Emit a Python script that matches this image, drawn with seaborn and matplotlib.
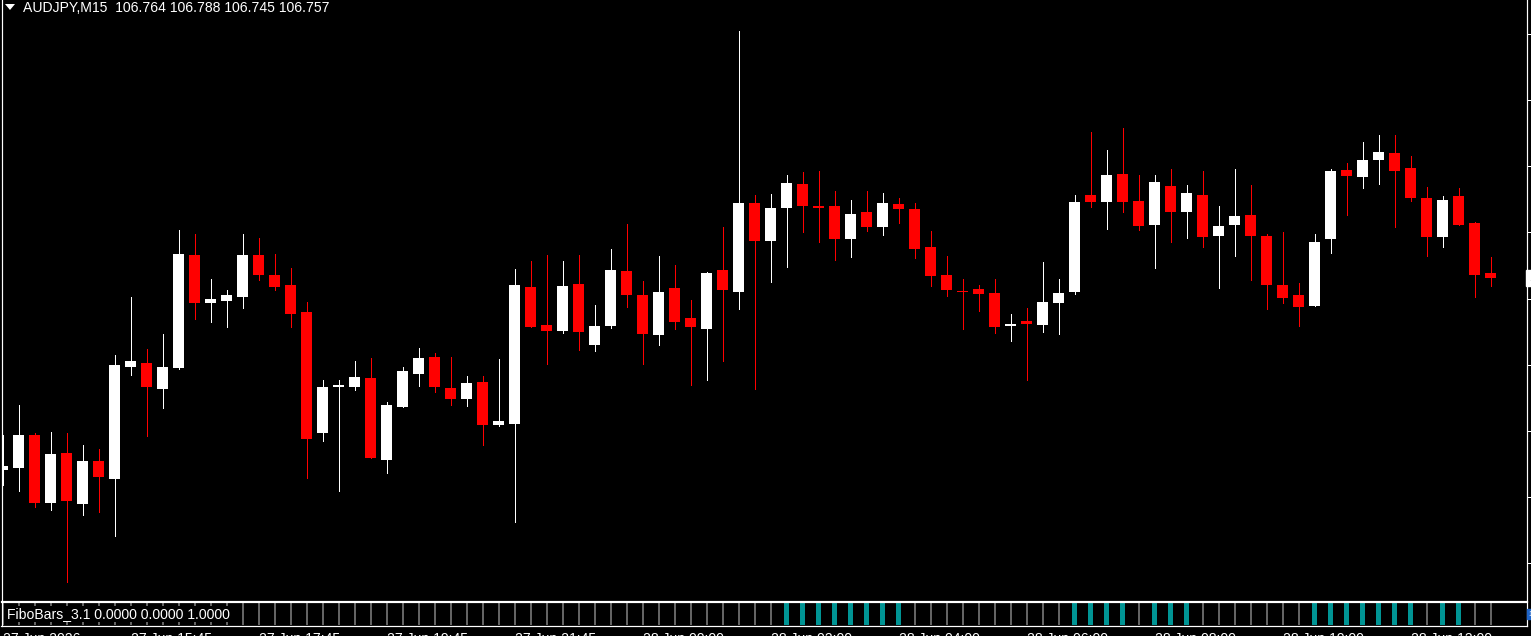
import matplotlib
matplotlib.use("Agg")
import matplotlib.pyplot as plt
from matplotlib.patches import Polygon
import matplotlib.transforms as mtransforms
import numpy as np
import pandas as pd
import seaborn as sns

# ---------------- data ----------------
symbol = "AUDJPY,M15"
indicator_name = "FiboBars_3.1"
indicator_values = [0.0, 0.0, 1.0]

opens = [106.473, 106.476, 106.525, 106.424, 106.498, 106.423, 106.486, 106.460, 106.625, 106.631,
         106.593, 106.624, 106.791, 106.720, 106.723, 106.729, 106.791, 106.761, 106.747, 106.707,
         106.528, 106.596, 106.596, 106.609, 106.488, 106.566, 106.615, 106.640, 106.594, 106.578,
         106.603, 106.539, 106.541, 106.744, 106.687, 106.679, 106.748, 106.658, 106.686, 106.767,
         106.732, 106.673, 106.742, 106.698, 106.682, 106.769, 106.736, 106.868, 106.812, 106.861,
         106.896, 106.864, 106.864, 106.815, 106.855, 106.832, 106.867, 106.859, 106.803, 106.761,
         106.738, 106.741, 106.735, 106.686, 106.693, 106.687, 106.720, 106.736, 106.880, 106.869,
         106.911, 106.871, 106.835, 106.893, 106.855, 106.880, 106.819, 106.835, 106.850, 106.819,
         106.747, 106.732, 106.716, 106.815, 106.917, 106.906, 106.932, 106.942, 106.920, 106.875,
         106.818, 106.878, 106.838, 106.764]
highs = [106.525, 106.569, 106.528, 106.529, 106.528, 106.510, 106.504, 106.643, 106.729, 106.652,
         106.674, 106.828, 106.822, 106.756, 106.739, 106.822, 106.816, 106.793, 106.772, 106.721,
         106.606, 106.606, 106.634, 106.639, 106.573, 106.625, 106.653, 106.646, 106.640, 106.612,
         106.612, 106.637, 106.770, 106.782, 106.791, 106.782, 106.791, 106.717, 106.800, 106.837,
         106.753, 106.790, 106.776, 106.724, 106.766, 106.832, 107.123, 106.880, 106.881, 106.909,
         106.914, 106.915, 106.886, 106.872, 106.886, 106.883, 106.875, 106.868, 106.827, 106.790,
         106.756, 106.747, 106.756, 106.704, 106.713, 106.781, 106.756, 106.880, 106.973, 106.946,
         106.979, 106.909, 106.909, 106.918, 106.895, 106.915, 106.864, 106.918, 106.895, 106.822,
         106.825, 106.750, 106.822, 106.918, 106.927, 106.958, 106.969, 106.969, 106.938, 106.892,
         106.878, 106.890, 106.840, 106.788]
lows = [106.451, 106.442, 106.418, 106.414, 106.307, 106.406, 106.411, 106.375, 106.613, 106.523,
        106.565, 106.622, 106.696, 106.692, 106.684, 106.713, 106.754, 106.739, 106.684, 106.461,
        106.516, 106.442, 106.591, 106.491, 106.468, 106.566, 106.597, 106.588, 106.569, 106.568,
        106.510, 106.538, 106.396, 106.684, 106.630, 106.676, 106.650, 106.649, 106.683, 106.714,
        106.630, 106.658, 106.682, 106.599, 106.606, 106.634, 106.711, 106.593, 106.751, 106.773,
        106.825, 106.810, 106.784, 106.788, 106.827, 106.821, 106.838, 106.787, 106.745, 106.730,
        106.682, 106.708, 106.676, 106.664, 106.606, 106.677, 106.674, 106.733, 106.862, 106.830,
        106.855, 106.828, 106.772, 106.810, 106.816, 106.803, 106.742, 106.790, 106.754, 106.711,
        106.720, 106.686, 106.716, 106.794, 106.850, 106.890, 106.896, 106.832, 106.871, 106.790,
        106.803, 106.835, 106.729, 106.745]
closes = [106.479, 106.525, 106.424, 106.497, 106.427, 106.486, 106.462, 106.628, 106.634, 106.596,
          106.625, 106.793, 106.720, 106.726, 106.732, 106.791, 106.761, 106.744, 106.704, 106.519,
          106.596, 106.599, 106.610, 106.491, 106.569, 106.619, 106.639, 106.596, 106.578, 106.602,
          106.539, 106.545, 106.747, 106.684, 106.679, 106.745, 106.677, 106.686, 106.769, 106.732,
          106.674, 106.736, 106.692, 106.684, 106.764, 106.739, 106.868, 106.812, 106.861, 106.898,
          106.864, 106.861, 106.815, 106.852, 106.832, 106.868, 106.859, 106.800, 106.760, 106.739,
          106.736, 106.733, 106.684, 106.689, 106.689, 106.721, 106.735, 106.869, 106.869, 106.909,
          106.869, 106.834, 106.899, 106.855, 106.883, 106.818, 106.834, 106.849, 106.819, 106.747,
          106.727, 106.714, 106.810, 106.915, 106.908, 106.932, 106.943, 106.915, 106.875, 106.818,
          106.872, 106.835, 106.761, 106.757]
# FiboBars state per bar: 1 = trend bar (teal), 0 = neutral (grey)
fibo_signal = [0, 0, 0, 0, 0, 0, 0, 0, 0, 0,
               0, 0, 0, 0, 0, 0, 0, 0, 0, 0,
               0, 0, 0, 0, 0, 0, 0, 0, 0, 0,
               0, 0, 0, 0, 0, 0, 0, 0, 0, 0,
               0, 0, 0, 0, 0, 0, 0, 0, 0, 1,
               1, 1, 1, 1, 1, 1, 1, 0, 0, 0,
               0, 0, 0, 0, 0, 0, 0, 1, 1, 1,
               1, 0, 1, 1, 1, 0, 0, 0, 0, 0,
               0, 0, 1, 1, 1, 1, 1, 1, 1, 0,
               1, 1, 0, 0]
time_tick_pos = [0, 8, 16, 24, 32, 40, 48, 56, 64, 72, 80, 88]
time_labels = ["27 Jun 2026", "27 Jun 15:45", "27 Jun 17:45", "27 Jun 19:45",
               "27 Jun 21:45", "28 Jun 00:00", "28 Jun 02:00", "28 Jun 04:00",
               "28 Jun 06:00", "28 Jun 08:00", "28 Jun 10:00", "28 Jun 12:00"]
price_ticks = [107.118, 107.020, 106.923, 106.825, 106.726, 106.628, 106.531, 106.433, 106.335]

df = pd.DataFrame({"open": opens, "high": highs, "low": lows, "close": closes,
                   "signal": fibo_signal})
df["idx"] = np.arange(len(df))

# ---------------- style ----------------
sns.set_theme(style="dark", rc={
    "figure.facecolor": "black", "axes.facecolor": "black",
    "axes.edgecolor": "white", "xtick.color": "white", "ytick.color": "white",
    "text.color": "white", "axes.grid": False,
})
plt.rcParams["font.family"] = ["Liberation Sans", "DejaVu Sans"]

W, H = 1531, 636
fig = plt.figure(figsize=(W / 100, H / 100), dpi=100, facecolor="black")
PX = 0.72  # one pixel in points
FS = 10.1

def fx(px):
    return px / W

def fy(py):
    return 1 - py / H

ax = fig.add_axes([fx(1.5), fy(600.5), fx(1527) - fx(1.5), 600.5 / H])
ax2 = fig.add_axes([fx(1.5), fy(626), fx(1527) - fx(1.5), 24 / H])

for a in (ax, ax2):
    a.set_facecolor("black")
    for s in a.spines.values():
        s.set_color("white")
        s.set_linewidth(1.2 * PX)
ax.spines["top"].set_visible(False)

# ---------------- candles ----------------
up = df["close"] >= df["open"]
colors = np.where(up, "#FFFFFF", "#FF0000")
body_low = np.minimum(df["open"], df["close"])
body_h = np.maximum((df["close"] - df["open"]).abs(), 0.0016)

ax.vlines(df["idx"], df["low"], df["high"], colors=colors, linewidth=1.0 * PX,
          antialiased=False, zorder=2)
ax.bar(df["idx"], body_h, bottom=body_low, width=0.6875, color=colors,
       linewidth=0, antialiased=False, zorder=3)

ax.set_xlim(-0.0625, 95.28)
ax.set_ylim(106.2797, 107.1684)
ax.set_xticks([])
ax.yaxis.tick_right()
ax.set_yticks(price_ticks)
ax.tick_params(axis="y", direction="out", length=3.5 * PX, width=1 * PX,
               colors="white", labelright=False, labelleft=False, right=True, left=False)

# current price marker (mostly outside the canvas, as in the reference)
trans = mtransforms.blended_transform_factory(ax.transAxes, ax.transData)
ax.text(1.0012, closes[-1], f"{closes[-1]:.3f}", transform=trans, ha="left", va="center",
        fontsize=8, color="black", clip_on=False,
        bbox=dict(boxstyle="square,pad=0.25", facecolor="white", edgecolor="white"))

# header
fig.patches.append(Polygon([[fx(5), fy(4)], [fx(15), fy(4)], [fx(10), fy(10)]],
                           closed=True, facecolor="white", edgecolor="none",
                           transform=fig.transFigure))
header = f"{symbol}  {opens[-1]:.3f} {highs[-1]:.3f} {lows[-1]:.3f} {closes[-1]:.3f}"
fig.text(fx(23), fy(8), header, ha="left", va="center", fontsize=FS, color="white")

# ---------------- FiboBars indicator ----------------
sig = df["signal"].to_numpy()
bar_w = np.where(sig == 1, 0.3125, 0.125)
bar_c = np.where(sig == 1, "#009494", "#646464")
ax2.bar(df["idx"], np.ones(len(df)), bottom=0, width=bar_w, color=bar_c,
        linewidth=0, antialiased=False, zorder=2)
ax2.set_xlim(-0.0625, 95.28)
ax2.set_ylim(-0.05, 1.03)
ax2.set_yticks([])
ax2.set_xticks(time_tick_pos)
ax2.set_xticklabels(time_labels)
ax2.tick_params(axis="x", direction="out", length=3.5 * PX, width=1 * PX, colors="white",
                pad=2.0, labelsize=FS, labelcolor="white")
for lbl in ax2.get_xticklabels():
    lbl.set_ha("left")

ind_label = f"{indicator_name} " + " ".join(f"{v:.4f}" for v in indicator_values)
ax2.text(fx(5) / (fx(1527) - fx(1.5)), 0.5, ind_label, transform=ax2.transAxes,
         ha="left", va="center", fontsize=FS, color="white", zorder=5,
         bbox=dict(boxstyle="square,pad=0.05", facecolor="black", edgecolor="none"))
trans2 = mtransforms.blended_transform_factory(ax2.transAxes, ax2.transAxes)
ax2.text(1.0012, 0.5, "1.0000", transform=trans2, ha="left", va="center", fontsize=5,
         color="white", clip_on=False,
         bbox=dict(boxstyle="square,pad=0.2", facecolor="#1E64C8", edgecolor="#1E64C8"))

fig.savefig("out.png", dpi=100, facecolor="black")
